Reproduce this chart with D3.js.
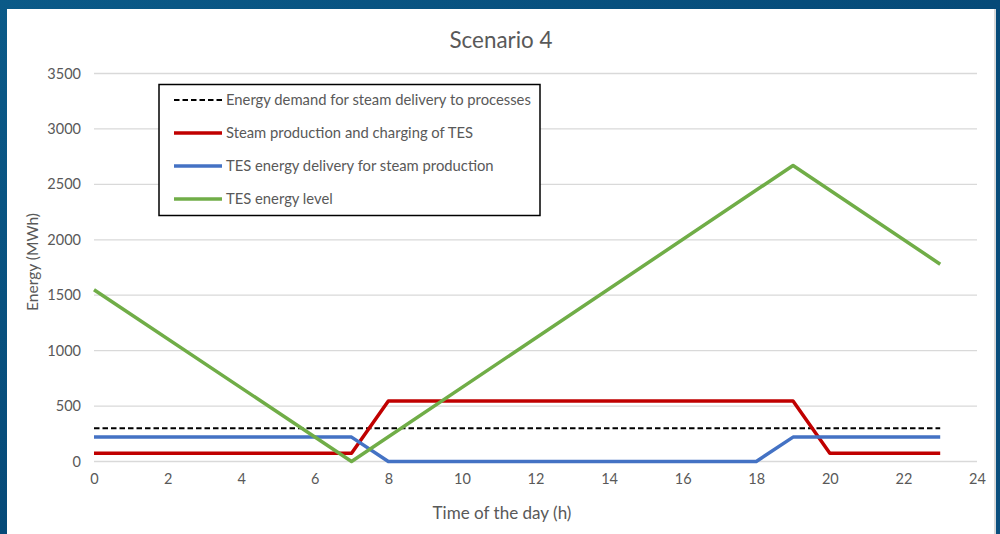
<!DOCTYPE html>
<html><head><meta charset="utf-8">
<script src="https://cdn.jsdelivr.net/npm/d3@7"></script>
<style>
html,body{margin:0;padding:0;background:#0a4d7b;}
svg{display:block;}
text{font-family:Lato, "Open Sans", sans-serif;}
</style></head>
<body>
<svg id="c" width="1000" height="534"></svg>
<script>
const xTicks = [0,2,4,6,8,10,12,14,16,18,20,22,24];
const yTicks = [0,500,1000,1500,2000,2500,3000,3500];

const demandHours = [0, 23];
const demandValues = [300, 300];
const steamHours = [0, 7, 8, 19, 20, 23];
const steamValues = [75, 75, 545, 545, 75, 75];
const tesDeliveryHours = [0, 7, 8, 18, 19, 23];
const tesDeliveryValues = [220, 220, 0, 0, 220, 220];
const tesLevelHours = [0, 7, 19, 23];
const tesLevelValues = [1550, 0, 2670, 1780];

const seriesNames = [
  "Energy demand for steam delivery to processes",
  "Steam production and charging of TES",
  "TES energy delivery for steam production",
  "TES energy level"
];

const svg = d3.select("#c");
// fit font size so the text's width matches the target width
function fit(sel, target){
  sel.each(function(){
    const fs = parseFloat(this.style.fontSize);
    const w = this.getComputedTextLength();
    if (w>0) this.style.fontSize = (fs*target/w).toFixed(2)+"px";
  });
}

const defs = svg.append("defs");
const g1 = defs.append("linearGradient").attr("id","bg").attr("x1","0").attr("y1","0").attr("x2","1").attr("y2","1");
g1.append("stop").attr("offset","0").attr("stop-color","#0b5a88");
g1.append("stop").attr("offset","0.5").attr("stop-color","#064a78");
g1.append("stop").attr("offset","1").attr("stop-color","#0a4f7e");
svg.append("rect").attr("width",1000).attr("height",534).attr("fill","url(#bg)");
svg.append("rect").attr("x",7).attr("y",9).attr("width",989).attr("height",530).attr("fill","#d9d9d9");
svg.append("rect").attr("x",7).attr("y",9).attr("width",987).attr("height",530).attr("fill","#ffffff");

const x = d3.scaleLinear().domain([0,24]).range([94,977]);
const y = d3.scaleLinear().domain([0,3500]).range([461.5,73.5]);

svg.append("g").selectAll("line").data(yTicks).join("line")
  .attr("x1",x(0)).attr("x2",x(24))
  .attr("y1",d=>y(d)).attr("y2",d=>y(d))
  .attr("stroke","#d9d9d9").attr("stroke-width",1.3);

const ya = svg.append("g").attr("transform",`translate(${x(0)},0)`)
  .call(d3.axisLeft(y).tickValues(yTicks).tickFormat(d3.format("d")).tickSize(0).tickPadding(13));
ya.select(".domain").remove();
ya.selectAll("text").attr("fill","#595959").style("font-size","14.5px").style("font-family","Lato, sans-serif");

const xa = svg.append("g").attr("transform",`translate(0,${y(0)})`)
  .call(d3.axisBottom(x).tickValues(xTicks).tickSize(0).tickPadding(12));
xa.select(".domain").remove();
xa.selectAll("text").attr("fill","#595959").style("font-size","14.5px").style("font-family","Lato, sans-serif");

svg.append("text").attr("x",501).attr("y",48).attr("text-anchor","middle")
  .attr("fill","#595959").style("font-size","20px").text("Scenario 4").call(fit,103);
svg.append("text").attr("x",502).attr("y",519).attr("text-anchor","middle")
  .attr("fill","#595959").style("font-size","16px").text("Time of the day (h)").call(fit,139);
svg.append("text").attr("transform","translate(38,262) rotate(-90)").attr("text-anchor","middle")
  .attr("fill","#595959").style("font-size","16px").text("Energy (MWh)").call(fit,98);

const line = d3.line().x(d=>x(d[0])).y(d=>y(d[1]));
const series = [
  {h:demandHours, v:demandValues, color:"#000000", w:2.2, dash:"5.5,3"},
  {h:steamHours, v:steamValues, color:"#c00000", w:3.5, dash:null},
  {h:tesDeliveryHours, v:tesDeliveryValues, color:"#4472c4", w:3.5, dash:null},
  {h:tesLevelHours, v:tesLevelValues, color:"#70ad47", w:3.5, dash:null}
];
series.forEach(s=>{
  svg.append("path").datum(s.h.map((hh,k)=>[hh,s.v[k]]))
    .attr("d",line).attr("fill","none").attr("stroke",s.color)
    .attr("stroke-width",s.w).attr("stroke-linejoin","round")
    .attr("stroke-dasharray",s.dash);
});

const lg = svg.append("g");
lg.append("rect").attr("x",159).attr("y",84.5).attr("width",381).attr("height",131)
  .attr("fill","#fff").attr("stroke","#000").attr("stroke-width",1.5);
seriesNames.forEach((n,i)=>{
  const yy = 100 + i*33;
  const s = series[i];
  lg.append("line").attr("x1",174).attr("x2",222).attr("y1",yy).attr("y2",yy)
    .attr("stroke",s.color).attr("stroke-width",s.w).attr("stroke-dasharray",s.dash);
  const t = lg.append("text").attr("x",226).attr("y",yy+5).attr("fill","#595959")
    .style("font-size","14px").text(n);
  if (i===0) t.call(fit,305);
});
// apply same legend size to all entries
const lfs = lg.select("text").style("font-size");
lg.selectAll("text").style("font-size",lfs);
</script>
</body></html>
